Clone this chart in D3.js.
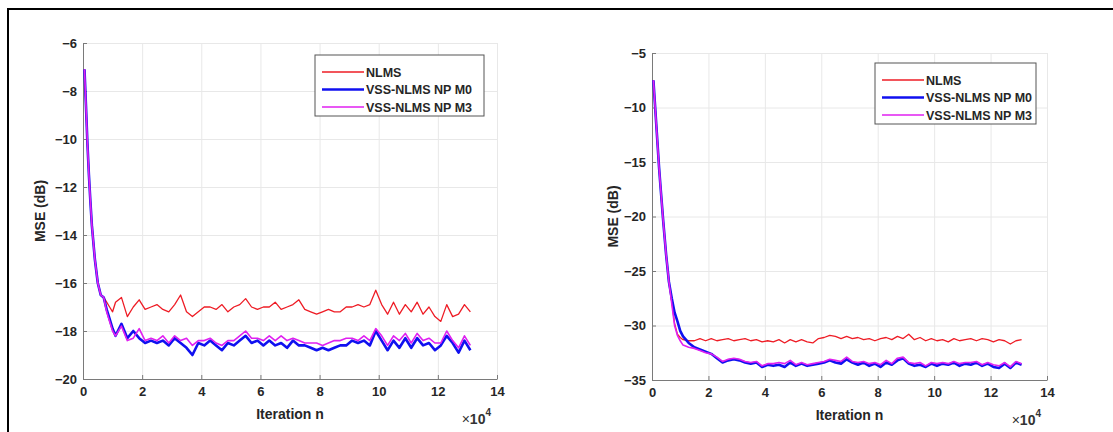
<!DOCTYPE html>
<html lang="en">
<head>
  <meta charset="UTF-8">
  <title>MSE curves</title>
  <script src="https://d3js.org/d3.v7.min.js"></script>
  <style>
    body { margin: 0; background: #fff; }
    svg { display: block; font-family: "Liberation Sans", Arial, sans-serif; }
    .tick text { fill: #262626; font-weight: bold; }
    .grid line { stroke: #e8e8e8; }
    .grid path { display: none; }
  </style>
</head>
<body>
<svg width="1113" height="432"></svg>

<script>
  // iteration axis, in units of 10^4
  const iterX = [0.05, 0.1, 0.15, 0.2, 0.25, 0.3, 0.4, 0.5, 0.6, 0.7, 0.8, 0.9, 1.0,
    1.1, 1.3, 1.5, 1.7, 1.9, 2.1, 2.3, 2.5, 2.7, 2.9, 3.1, 3.3, 3.5, 3.7, 3.9,
    4.1, 4.3, 4.5, 4.7, 4.9, 5.1, 5.3, 5.5, 5.7, 5.9, 6.1, 6.3, 6.5, 6.7, 6.9,
    7.1, 7.3, 7.5, 7.7, 7.9, 8.1, 8.3, 8.5, 8.7, 8.9, 9.1, 9.3, 9.5, 9.7, 9.9,
    10.1, 10.3, 10.5, 10.7, 10.9, 11.1, 11.3, 11.5, 11.7, 11.9, 12.1, 12.3, 12.5,
    12.7, 12.9, 13.1];

  const seriesNames = ["NLMS", "VSS-NLMS NP M0", "VSS-NLMS NP M3"];
  const xTicks = [0, 2, 4, 6, 8, 10, 12, 14];
  const leftYTicks = [-20, -18, -16, -14, -12, -10, -8, -6];
  const rightYTicks = [-35, -30, -25, -20, -15, -10, -5];

  // left panel (MSE dB)
  const leftNLMS = [-7.1, -8.6, -10.2, -11.5, -12.6, -13.6, -15.0, -16.0, -16.5, -16.6, -16.8, -17.0, -17.2,
    -16.8, -16.6, -17.4, -17.0, -16.7, -17.1, -17.0, -16.9, -17.1, -17.2, -16.9, -16.5, -17.2, -17.4, -17.2,
    -17.0, -17.0, -17.1, -16.9, -17.2, -17.0, -16.9, -16.65, -17.0, -17.1, -17.0, -17.0, -16.8, -17.1, -17.0,
    -16.9, -16.7, -17.1, -17.2, -17.3, -17.2, -17.1, -17.2, -17.2, -17.0, -17.0, -16.9, -17.0, -16.9, -16.3,
    -16.9, -17.3, -16.8, -17.3, -16.9, -17.2, -16.8, -17.3, -17.0, -17.4, -17.6, -16.9, -17.4,
    -17.3, -16.9, -17.2];
  const leftM0 = [-7.1, -8.6, -10.2, -11.5, -12.6, -13.6, -15.0, -16.0, -16.5, -16.6, -17.1, -17.5, -17.9,
    -18.2, -17.7, -18.3, -18.0, -18.3, -18.5, -18.4, -18.5, -18.4, -18.6, -18.3, -18.5, -18.7, -19.0, -18.5,
    -18.6, -18.4, -18.6, -18.8, -18.5, -18.6, -18.4, -18.2, -18.5, -18.4, -18.6, -18.4, -18.6, -18.5, -18.7,
    -18.4, -18.6, -18.6, -18.7, -18.8, -18.7, -18.8, -18.7, -18.6, -18.6, -18.4, -18.5, -18.4, -18.6, -18.0,
    -18.4, -18.8, -18.4, -18.7, -18.3, -18.7, -18.3, -18.6, -18.5, -18.8, -18.6, -18.2, -18.5,
    -18.9, -18.4, -18.8];
  const leftM3 = [-7.1, -8.6, -10.2, -11.5, -12.6, -13.6, -15.0, -16.0, -16.5, -16.6, -17.2, -17.6, -18.0,
    -18.2, -17.8, -18.4, -18.3, -17.9, -18.4, -18.3, -18.4, -18.2, -18.5, -18.2, -18.4, -18.3, -18.6, -18.4,
    -18.4, -18.3, -18.5, -18.6, -18.4, -18.4, -18.2, -18.0, -18.3, -18.3, -18.4, -18.2, -18.4, -18.2, -18.4,
    -18.3, -18.4, -18.5, -18.5, -18.5, -18.6, -18.5, -18.4, -18.4, -18.3, -18.3, -18.4, -18.2, -18.4, -17.9,
    -18.2, -18.6, -18.2, -18.4, -18.1, -18.5, -18.1, -18.4, -18.3, -18.5, -18.5, -18.0, -18.4,
    -18.7, -18.2, -18.6];

  // right panel (MSE dB)
  const rightNLMS = [-7.5, -9.5, -11.5, -13.5, -15.5, -17.2, -20.5, -23.5, -26.0, -27.8, -29.8, -30.8, -31.1,
    -31.3, -31.4, -31.4, -31.2, -31.4, -31.2, -31.4, -31.3, -31.2, -31.4, -31.3, -31.2, -31.4, -31.3, -31.5,
    -31.4, -31.5, -31.3, -31.6, -31.3, -31.5, -31.3, -31.5, -31.6, -31.2, -31.1, -30.9, -31.0, -31.2, -31.0,
    -31.2, -31.1, -31.3, -31.2, -31.4, -31.2, -31.1, -31.3, -31.0, -31.2, -30.8, -31.3, -31.1, -31.4, -31.2,
    -31.4, -31.3, -31.5, -31.2, -31.4, -31.3, -31.2, -31.4, -31.2, -31.3, -31.5, -31.3, -31.4,
    -31.7, -31.4, -31.3];
  const rightM0 = [-7.5, -9.5, -11.5, -13.5, -15.5, -17.2, -20.5, -23.5, -26.0, -27.5, -28.8, -29.6, -30.5,
    -31.0, -31.6, -32.0, -32.2, -32.4, -32.6, -33.0, -33.4, -33.2, -33.1, -33.2, -33.4, -33.5, -33.4, -33.8,
    -33.6, -33.7, -33.6, -33.8, -33.4, -33.7, -33.5, -33.7, -33.6, -33.5, -33.4, -33.2, -33.4, -33.5, -33.1,
    -33.4, -33.6, -33.4, -33.7, -33.5, -33.8, -33.4, -33.6, -33.2, -33.0, -33.5, -33.7, -33.6, -33.8, -33.5,
    -33.7, -33.5, -33.6, -33.4, -33.7, -33.5, -33.6, -33.4, -33.7, -33.5, -33.8, -33.9, -33.5,
    -33.9, -33.4, -33.6];
  const rightM3 = [-7.5, -9.5, -11.5, -13.5, -15.5, -17.2, -20.5, -23.5, -26.0, -28.0, -30.0, -30.9, -31.4,
    -31.8, -32.0, -32.1, -32.3, -32.5, -32.6, -32.9, -33.3, -33.1, -33.0, -33.1, -33.3, -33.4, -33.3, -33.7,
    -33.5, -33.5, -33.4, -33.5, -33.2, -33.6, -33.4, -33.6, -33.5, -33.4, -33.3, -33.1, -33.2, -33.3, -32.9,
    -33.3, -33.4, -33.3, -33.5, -33.4, -33.6, -33.2, -33.5, -33.0, -32.9, -33.4, -33.5, -33.4, -33.7, -33.4,
    -33.5, -33.4, -33.5, -33.3, -33.5, -33.4, -33.4, -33.3, -33.6, -33.4, -33.6, -33.7, -33.4,
    -33.8, -33.3, -33.5];

  const colors = ["#ee1c25", "#1010f0", "#e020f0"];
  const widths = [1.3, 2.6, 1.6];

  const svg = d3.select("svg");

  // outer frame of the figure
  svg.append("path")
    .attr("d", "M8,440 L8,9 L1120,9")
    .attr("fill", "none")
    .attr("stroke", "#000")
    .attr("stroke-width", 2);

  function drawPanel(p) {
    const x = d3.scaleLinear().domain([0, 14]).range([p.left, p.right]);
    const y = d3.scaleLinear().domain(p.yDomain).range([p.bottom, p.top]);
    const g = svg.append("g");

    // grid
    g.append("g").attr("class", "grid")
      .attr("transform", `translate(0,${p.bottom})`)
      .call(d3.axisBottom(x).tickValues(xTicks).tickSize(-(p.bottom - p.top)).tickFormat(""));
    g.append("g").attr("class", "grid")
      .attr("transform", `translate(${p.left},0)`)
      .call(d3.axisLeft(y).tickValues(p.yTicks).tickSize(-(p.right - p.left)).tickFormat(""));

    // axes
    const xa = g.append("g")
      .attr("transform", `translate(0,${p.bottom})`)
      .call(d3.axisBottom(x).tickValues(xTicks).tickSizeInner(-4).tickSizeOuter(0).tickPadding(8));
    const ya = g.append("g")
      .attr("transform", `translate(${p.left},0)`)
      .call(d3.axisLeft(y).tickValues(p.yTicks).tickSizeInner(-4).tickSizeOuter(0).tickPadding(6));
    [xa, ya].forEach(a => {
      a.selectAll("path, line").attr("stroke", "#7a7a7a");
      a.selectAll("text").style("font-size", "13px");
    });

    // series
    const line = d3.line().x((d, i) => x(iterX[i])).y(d => y(d));
    p.series.forEach((s, k) => {
      g.append("path")
        .datum(s)
        .attr("fill", "none")
        .attr("stroke", colors[k])
        .attr("stroke-width", widths[k])
        .attr("stroke-linejoin", "round")
        .attr("d", line);
    });

    // labels
    g.append("text")
      .attr("x", (p.left + p.right) / 2).attr("y", p.bottom + 40)
      .attr("text-anchor", "middle")
      .style("font-size", "14px").style("font-weight", "bold").attr("fill", "#262626")
      .text("Iteration n");
    g.append("text")
      .attr("transform", `translate(${p.left - p.yLabelOff},${(p.top + p.bottom) / 2}) rotate(-90)`)
      .attr("text-anchor", "middle")
      .style("font-size", "14px").style("font-weight", "bold").attr("fill", "#262626")
      .text("MSE (dB)");
    const ex = g.append("text")
      .attr("x", p.right - 6).attr("y", p.bottom + 45)
      .attr("text-anchor", "end")
      .style("font-size", "14px").style("font-weight", "bold").attr("fill", "#333");
    ex.append("tspan").style("font-weight", "normal").text("\u00d7");
    ex.append("tspan").text("10");
    ex.append("tspan").attr("dy", -8).style("font-size", "10px").text("4");

    // legend
    const lg = g.append("g").attr("transform", `translate(${p.legX},${p.legY})`);
    lg.append("rect")
      .attr("width", p.legW).attr("height", 61)
      .attr("fill", "#fff").attr("stroke", "#555").attr("stroke-width", 1);
    seriesNames.forEach((name, k) => {
      const yy = 17 + k * 17.5;
      lg.append("line")
        .attr("x1", 7).attr("x2", 49).attr("y1", yy).attr("y2", yy)
        .attr("stroke", colors[k]).attr("stroke-width", widths[k]);
      lg.append("text")
        .attr("x", 51).attr("y", yy + 4.5)
        .style("font-size", "12.5px").style("font-weight", "bold").attr("fill", "#262626")
        .text(name);
    });
  }

  drawPanel({
    left: 83, right: 497, top: 43, bottom: 379,
    yDomain: [-20, -6], yTicks: leftYTicks, yLabelOff: 38,
    series: [leftNLMS, leftM0, leftM3],
    legX: 315, legY: 55, legW: 169
  });

  drawPanel({
    left: 652, right: 1047, top: 53, bottom: 380,
    yDomain: [-35, -5], yTicks: rightYTicks, yLabelOff: 34,
    series: [rightNLMS, rightM0, rightM3],
    legX: 875, legY: 63, legW: 161
  });
</script>

</body>
</html>
